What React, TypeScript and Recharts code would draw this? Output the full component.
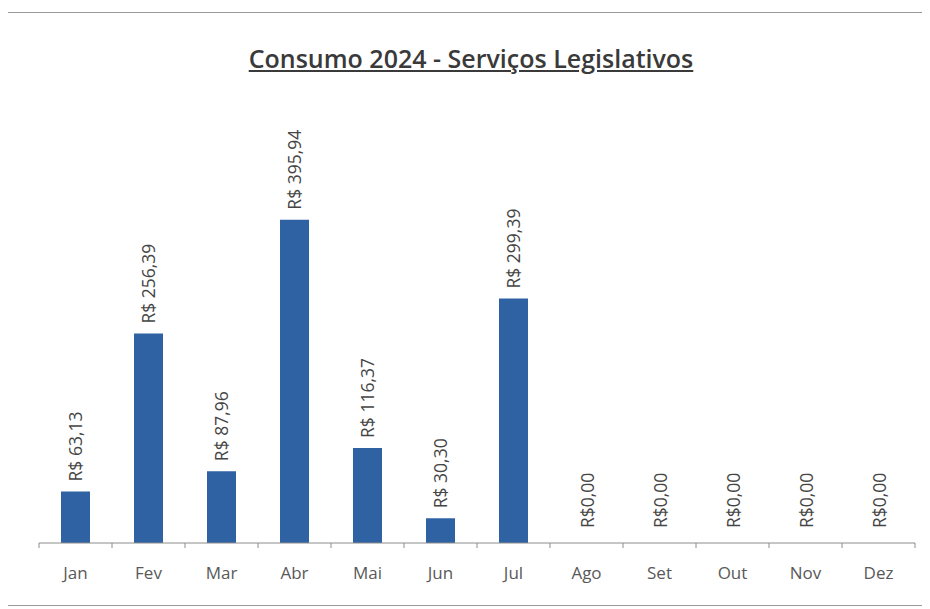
import React from 'react';
import { ComposedChart, Bar, Line, XAxis, YAxis, LabelList } from 'recharts';

const months = ['Jan', 'Fev', 'Mar', 'Abr', 'Mai', 'Jun', 'Jul', 'Ago', 'Set', 'Out', 'Nov', 'Dez'];
const consumo = [63.13, 256.39, 87.96, 395.94, 116.37, 30.3, 299.39, 0, 0, 0, 0, 0];

const data = months.map((m, i) => ({ mes: m, valor: consumo[i] }));

const FONT = '"Open Sans", "Noto Sans", sans-serif';

const fmt = (v: number) => {
  const s = v.toFixed(2).replace('.', ',');
  return v === 0 ? `R$${s}` : `R$ ${s}`;
};

// Excel-style ticks between categories
const MonthTick = (props: any) => {
  const { x, y, payload, index, width, visibleTicksCount } = props;
  const half = width / visibleTicksCount / 2;
  const top = y - 8;
  return (
    <g>
      <line x1={x - half} x2={x - half} y1={top} y2={top + 5} stroke="#8c8c8c" />
      {index === visibleTicksCount - 1 && (
        <line x1={x + half} x2={x + half} y1={top} y2={top + 5} stroke="#8c8c8c" />
      )}
      <text x={x} y={top + 36} textAnchor="middle" fill="#595959" fontSize={17} fontFamily={FONT}>
        {payload.value}
      </text>
    </g>
  );
};

// labels hang off an invisible line so zero months get one too
const ValueLabel = (props: any) => {
  const { x, y, value } = props;
  const gap = value === 0 ? 15 : 10;
  const ly = y - gap;
  return (
    <text
      x={x}
      y={ly}
      transform={`rotate(-90, ${x}, ${ly})`}
      textAnchor="start"
      dominantBaseline="central"
      fill="#454545"
      fontSize={17.5}
      fontFamily={FONT}
    >
      {fmt(value)}
    </text>
  );
};

export default function App() {
  return (
    <div
      style={{
        position: 'relative',
        width: 920,
        height: 592,
        marginLeft: -3,
        marginTop: 4,
        borderTop: '1px solid #9a9a9a',
        borderLeft: '1px solid #9a9a9a',
        borderBottom: '1px solid #9a9a9a',
        background: '#fff',
      }}
    >
      <div
        style={{
          position: 'absolute',
          top: 28,
          left: 0,
          width: 930,
          textAlign: 'center',
          fontFamily: FONT,
          fontWeight: 600,
          fontSize: 25,
          color: '#3a3a3a',
          textDecoration: 'underline',
        }}
      >
        Consumo 2024 - Serviços Legislativos
      </div>
      <div style={{ position: 'absolute', left: 0, top: -4 }}>
        <ComposedChart
          width={922}
          height={600}
          data={data}
          margin={{ top: 93, right: 13, left: 33, bottom: 26 }}
          barSize={29}
        >
          <XAxis
            dataKey="mes"
            height={40}
            axisLine={{ stroke: '#8c8c8c' }}
            tickLine={false}
            interval={0}
            tick={<MonthTick />}
          />
          <YAxis hide domain={[0, 540]} />
          <Bar dataKey="valor" fill="#2e62a3" isAnimationActive={false} />
          <Line
            dataKey="valor"
            stroke="none"
            dot={false}
            activeDot={false}
            isAnimationActive={false}
          >
            <LabelList dataKey="valor" content={<ValueLabel />} />
          </Line>
        </ComposedChart>
      </div>
    </div>
  );
}
